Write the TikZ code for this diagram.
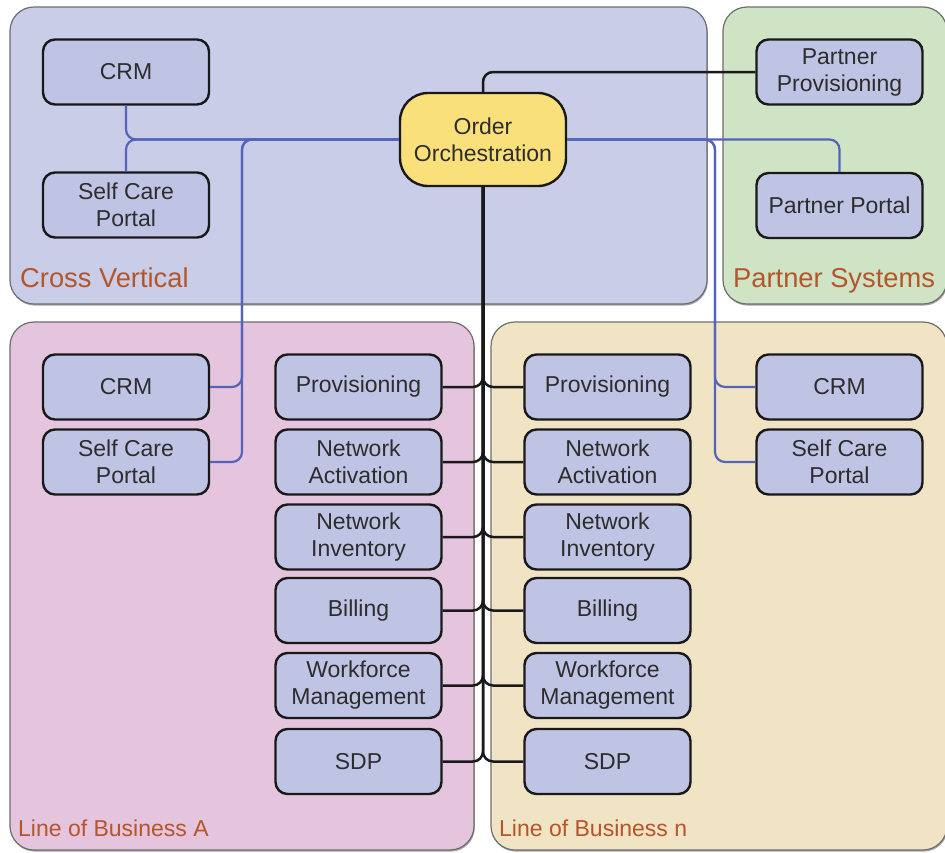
\documentclass[tikz,border=0pt]{standalone}
\usepackage{fontspec}
\setmainfont{Liberation Sans}
\usetikzlibrary{shadows}

\definecolor{cvfill}{RGB}{201,205,232}
\definecolor{psfill}{RGB}{207,228,196}
\definecolor{lafill}{RGB}{229,196,221}
\definecolor{lnfill}{RGB}{240,228,196}
\definecolor{boxfill}{RGB}{192,196,228}
\definecolor{oofill}{RGB}{250,224,122}
\definecolor{labelcol}{RGB}{182,84,42}
\definecolor{linkblue}{RGB}{84,100,188}
\definecolor{boxtext}{RGB}{45,45,45}
\definecolor{paneledge}{RGB}{110,110,110}

\tikzset{
  panel/.style={draw=paneledge, line width=1.2pt, rounded corners=24pt,
    drop shadow={shadow xshift=0.8pt, shadow yshift=-1.6pt, opacity=0.35, fill=black}},
  panellabel/.style={anchor=base west, inner sep=0pt, text=labelcol},
  sysbox/.style={draw=black!90, fill=boxfill, line width=2.4pt, rounded corners=12pt,
    minimum width=166pt, minimum height=65pt, align=center, inner sep=0pt,
    text=boxtext, font=\fontsize{23}{27}\selectfont},
  hubbox/.style={sysbox, fill=oofill, minimum height=93pt, rounded corners=28pt},
  bluelink/.style={draw=linkblue, line width=2.2pt, rounded corners=10pt},
  blacklink/.style={draw=black!90, line width=2.5pt, rounded corners=10pt},
}

\begin{document}
\begin{tikzpicture}[x=1pt, y=-1pt]
\useasboundingbox (0,0) rectangle (945,852);
\fill[white] (0,0) rectangle (945,852);

% background regions
\draw[panel, fill=cvfill] (10,7) rectangle (707,304);
\draw[panel, fill=psfill] (723,7) rectangle (947,304);
\draw[panel, fill=lafill] (10,322) rectangle (474,850);
\draw[panel, fill=lnfill] (491,322) rectangle (947,850);

\node[panellabel, font=\fontsize{27.3}{30}\selectfont] (lblcv) at (20,287) {Cross Vertical};
\node[panellabel, font=\fontsize{27.3}{30}\selectfont] (lblps) at (733,287) {Partner Systems};
\node[panellabel, font=\fontsize{23}{27}\selectfont] (lbla) at (18,836.5) {Line of Business A};
\node[panellabel, font=\fontsize{23}{27}\selectfont] (lbln) at (499,836.5) {Line of Business n};

% cross vertical systems
\node[sysbox] (crm1) at (126,72) {CRM};
\node[sysbox] (scp1) at (126,205) {Self Care\\Portal};
\node[hubbox] (oo) at (483,139.5) {Order\\Orchestration};

% partner systems
\node[sysbox] (pprov) at (839.5,72) {Partner\\Provisioning};
\node[sysbox] (pport) at (839.5,205.5) {Partner Portal};

% line of business A
\node[sysbox] (crm2) at (126,387) {CRM};
\node[sysbox] (scp2) at (126,462) {Self Care\\Portal};
\node[sysbox] (provA) at (358.5,387) {Provisioning};
\node[sysbox] (actA) at (358.5,462) {Network\\Activation};
\node[sysbox] (invA) at (358.5,537) {Network\\Inventory};
\node[sysbox] (billA) at (358.5,610.5) {Billing};
\node[sysbox] (wfmA) at (358.5,685.5) {Workforce\\Management};
\node[sysbox] (sdpA) at (358.5,761.5) {SDP};

% line of business n
\node[sysbox] (provN) at (607.5,387) {Provisioning};
\node[sysbox] (actN) at (607.5,462) {Network\\Activation};
\node[sysbox] (invN) at (607.5,537) {Network\\Inventory};
\node[sysbox] (billN) at (607.5,610.5) {Billing};
\node[sysbox] (wfmN) at (607.5,685.5) {Workforce\\Management};
\node[sysbox] (sdpN) at (607.5,761.5) {SDP};
\node[sysbox] (crm3) at (839.5,387) {CRM};
\node[sysbox] (scp3) at (839.5,462) {Self Care\\Portal};

% customer-facing links (blue)
\coordinate (busA) at (242,139.5);
\coordinate (busN) at (715,139.5);
\draw[bluelink] (crm1.south) |- (oo.west);
\draw[bluelink] (scp1.north) |- (oo.west);
\draw[bluelink] (oo.west) -| (busA |- crm2.east) -- (crm2.east);
\draw[bluelink] (oo.west) -| (busA |- scp2.east) -- (scp2.east);
\draw[bluelink] (oo.east) -| (busN |- crm3.west) -- (crm3.west);
\draw[bluelink] (oo.east) -| (busN |- scp3.west) -- (scp3.west);
\draw[bluelink] (oo.east) -| (pport.north);

% fulfilment links (black)
\draw[blacklink] (oo.north) |- (pprov.west);
\foreach \n in {provA,actA,invA,billA,wfmA,sdpA}{
  \draw[blacklink] (oo.south) |- (\n.east);
}
\foreach \n in {provN,actN,invN,billN,wfmN,sdpN}{
  \draw[blacklink] (oo.south) |- (\n.west);
}
\end{tikzpicture}
\end{document}
